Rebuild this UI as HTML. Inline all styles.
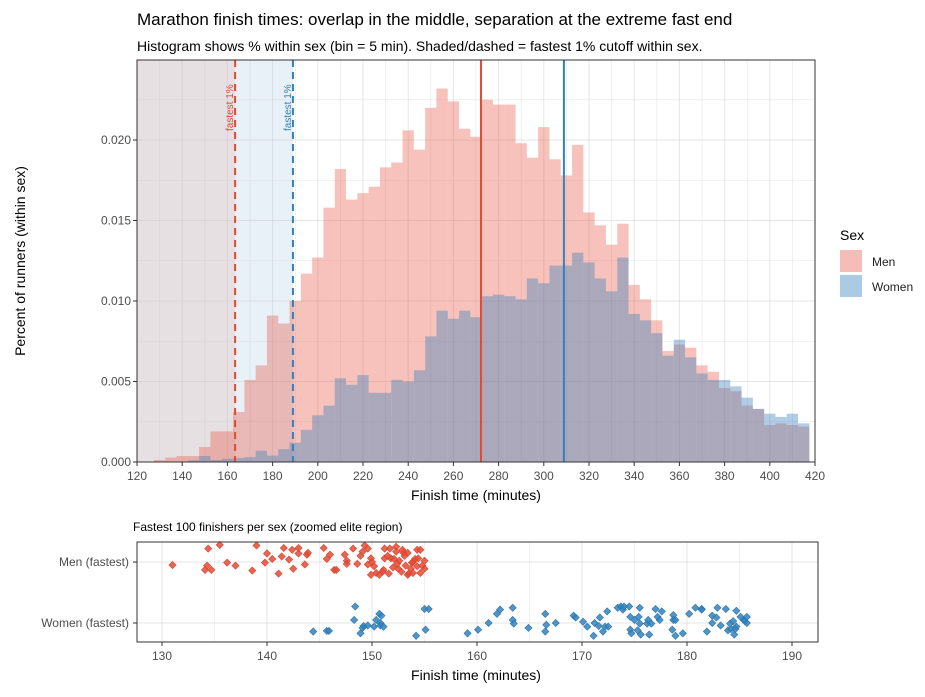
<!DOCTYPE html>
<html><head><meta charset="utf-8"><style>
body{margin:0;background:#fff;}
svg{display:block;font-family:"Liberation Sans",sans-serif;}
</style></head><body>
<svg id="c" width="925" height="697" viewBox="0 0 925 697">
<text x="137" y="25" font-size="17" fill="#000">Marathon finish times: overlap in the middle, separation at the extreme fast end</text>
<text x="137" y="51" font-size="14" fill="#000">Histogram shows % within sex (bin = 5 min). Shaded/dashed = fastest 1% cutoff within sex.</text>
<g id="topPanel"></g>
<g id="botPanel"></g>
<text x="476" y="500" font-size="14" text-anchor="middle">Finish time (minutes)</text>
<text x="0" y="0" font-size="14" text-anchor="middle" transform="translate(25,261) rotate(-90)">Percent of runners (within sex)</text>
<text x="840" y="240" font-size="14">Sex</text>
<rect x="840" y="250" width="22" height="22" fill="#F5BDB7"/>
<text x="872" y="266" font-size="12" fill="#222">Men</text>
<rect x="840" y="275" width="22" height="22" fill="#AACBE3"/>
<text x="872" y="291" font-size="12" fill="#222">Women</text>
<text x="133" y="531" font-size="12" fill="#000">Fastest 100 finishers per sex (zoomed elite region)</text>
<text x="476" y="680" font-size="14" text-anchor="middle">Finish time (minutes)</text>
</svg>
<script>
const binCenters=[130,135,140,145,150,155,160,165,170,175,180,185,190,195,200,205,210,215,220,225,230,235,240,245,250,255,260,265,270,275,280,285,290,295,300,305,310,315,320,325,330,335,340,345,350,355,360,365,370,375,380,385,390,395,400,405,410,415];
const menPct=[0.00012,0.00027,0.00037,0.00037,0.00093,0.0019,0.0019,0.0031,0.0051,0.0060,0.0091,0.0086,0.0100,0.0117,0.0127,0.0158,0.0182,0.0163,0.0167,0.0171,0.0183,0.0186,0.0206,0.0194,0.0220,0.0232,0.0224,0.0207,0.0202,0.0225,0.0222,0.0222,0.0198,0.0189,0.0208,0.0188,0.0178,0.0197,0.0155,0.0147,0.0135,0.0148,0.0110,0.0101,0.0088,0.0069,0.0073,0.0071,0.0060,0.0056,0.0046,0.0044,0.0035,0.0033,0.0023,0.0024,0.0023,0.0022];
const womenPct=[0,0,0,0.0001,0.00037,0.00012,0.0002,0.00025,0.0003,0.0007,0.0004,0.0008,0.0012,0.0020,0.0029,0.0035,0.0052,0.0048,0.0054,0.0043,0.0043,0.0051,0.0050,0.0057,0.0078,0.0094,0.0089,0.0094,0.0090,0.0103,0.0104,0.0103,0.0101,0.0114,0.0111,0.0122,0.0122,0.0130,0.0124,0.0114,0.0106,0.0127,0.0092,0.0088,0.0080,0.0066,0.0076,0.0065,0.0055,0.0051,0.0051,0.0047,0.0040,0.0033,0.0030,0.0028,0.0030,0.0024];
const binWidth=5;
const menCutoff=163.4, womenCutoff=189.0;
const menMedian=272.2, womenMedian=308.9;
const xTicks=[120,140,160,180,200,220,240,260,280,300,320,340,360,380,400,420];
const yTicks=[0,0.005,0.010,0.015,0.020];
const yTickLabels=["0.000","0.005","0.010","0.015","0.020"];
const menTimes=[131.0,134.4,135.5,134.1,134.3,134.7,136.2,137.0,138.6,139.0,140.0,139.8,140.5,141.1,141.4,141.6,142.1,142.4,142.5,143.0,143.0,143.6,143.8,143.9,145.4,145.7,146.0,146.4,146.6,147.4,147.6,147.6,148.2,148.6,148.9,149.1,149.3,149.6,149.6,149.9,149.9,150.2,150.4,150.7,151.1,151.2,151.2,151.6,151.7,151.8,152.1,152.3,152.3,152.5,152.6,152.9,153.0,153.2,153.4,153.4,153.7,153.8,153.9,154.1,154.3,154.4,154.6,154.6,154.8,155.0,155.0,152.0,152.4,152.8,153.5,153.9,154.3,153.1,151.5,151.0,150.0];
const menJitter=[-0.05,0.22,0.28,-0.13,-0.06,-0.13,-0.01,-0.06,-0.14,0.27,0.14,-0.01,0.05,-0.19,0.09,0.23,0.04,0.20,-0.11,0.23,0.14,-0.04,0.12,0.15,0.23,0.05,0.12,-0.13,-0.13,0.12,0.02,-0.03,0.22,-0.03,0.10,0.17,0.27,0.22,-0.04,0.06,-0.21,-0.07,-0.18,-0.21,-0.13,0.22,0.06,-0.19,0.22,0.06,0.05,0.25,0.17,-0.11,0.02,0.20,0.15,-0.06,0.15,-0.21,-0.11,-0.01,-0.18,0.05,0.20,0.06,0.20,-0.18,-0.06,0.02,-0.11,-0.09,-0.03,-0.16,-0.19,0.0,-0.07,0.10,0.10,-0.16,0.0];
const womenTimes=[144.4,145.7,145.9,148.3,148.4,148.9,149.1,149.2,149.6,150.2,150.4,150.7,150.9,150.8,150.8,151.1,154.2,155.0,155.4,155.1,159.1,160.1,161.1,161.9,162.2,163.4,163.4,163.5,164.9,166.5,166.6,166.5,167.5,169.2,169.4,170.1,170.5,171.1,171.2,171.6,171.7,172.0,172.2,172.4,172.5,173.4,173.7,173.9,174.0,174.5,174.6,174.6,174.7,175.0,175.4,175.5,175.3,175.5,175.6,176.2,176.3,176.4,176.6,177.0,177.2,177.4,177.6,178.7,178.7,178.6,178.9,178.9,179.6,180.2,180.8,181.4,181.4,181.9,182.4,182.4,182.8,182.9,183.2,183.7,183.9,184.1,184.2,184.4,184.5,184.7,184.7,184.6,185.1,185.4,185.7,185.7,185.5];
const womenJitter=[-0.14,-0.13,-0.13,0.05,0.27,-0.17,-0.08,-0.05,-0.04,-0.06,0.05,0.15,0.12,0.0,-0.04,-0.06,-0.21,0.23,0.23,-0.11,-0.17,-0.11,0.0,0.15,0.22,0.25,0.05,-0.01,-0.08,0.15,-0.03,-0.14,0.0,0.12,0.09,0.02,-0.06,-0.21,0.0,-0.05,0.09,-0.14,-0.06,0.19,-0.06,0.25,0.27,0.22,0.27,0.27,0.10,-0.11,-0.17,0.05,0.10,0.25,-0.12,-0.01,-0.19,-0.01,0.05,-0.19,-0.01,0.23,0.10,0.05,0.19,0.13,0.05,-0.11,0.05,-0.21,-0.17,0.15,0.25,0.23,0.22,-0.14,0.12,0.0,0.09,0.25,-0.04,0.23,-0.12,-0.01,-0.10,0.03,-0.19,-0.06,0.20,-0.10,0.10,0.05,0.10,0.0,0.03];
const botTicks=[130,140,150,160,170,180,190];
const categories=["Men (fastest)","Women (fastest)"];

const NS="http://www.w3.org/2000/svg";
function mk(parent,tag,attrs){const el=document.createElementNS(NS,tag);for(const k in attrs)el.setAttribute(k,attrs[k]);parent.appendChild(el);return el;}
const L=137,R=815,T=60,B=462;
const x=v=>L+(v-120)*(R-L)/300;
const y=v=>B-v*(B-T)/0.02497;
const topG=document.getElementById('topPanel');
let e;
e=mk(topG,'rect',{x:L,y:T,width:x(womenCutoff)-L,height:B-T,fill:'#E8F0F8'});


e=mk(topG,'rect',{x:L,y:T,width:x(menCutoff)-L,height:B-T,fill:'#E6E0E3'});


for(let v=120;v<=420;v+=10){e=mk(topG,'line',{x1:x(v),x2:x(v),y1:T,y2:B,stroke:'rgba(200,200,200,0.45)','stroke-width':v%20===0?1:0.6});

}
for(let k=0;k<=9;k++){const v=k*0.0025;e=mk(topG,'line',{x1:L,x2:R,y1:y(v),y2:y(v),stroke:'rgba(200,200,200,0.45)','stroke-width':k%2===0?1:0.6});

}
binCenters.forEach((c,i)=>{const v=menPct[i];if(v<=0)return;
 e=mk(topG,'rect',{x:x(c-binWidth/2),y:y(v),width:x(c+binWidth/2)-x(c-binWidth/2),height:B-y(v),fill:'rgba(232,80,60,0.35)'});
 
 });
binCenters.forEach((c,i)=>{const v=womenPct[i];if(v<=0)return;
 e=mk(topG,'rect',{x:x(c-binWidth/2),y:y(v),width:x(c+binWidth/2)-x(c-binWidth/2),height:B-y(v),fill:'rgba(60,130,190,0.4)'});
 
 });
e=mk(topG,'line',{x1:x(menCutoff),x2:x(menCutoff),y1:T,y2:B,stroke:'#E34A33','stroke-width':2,'stroke-dasharray':'7,5'});


e=mk(topG,'line',{x1:x(womenCutoff),x2:x(womenCutoff),y1:T,y2:B,stroke:'#3182BD','stroke-width':2,'stroke-dasharray':'7,5'});


e=mk(topG,'line',{x1:x(menMedian),x2:x(menMedian),y1:T,y2:B,stroke:'#E34A33','stroke-width':2});


e=mk(topG,'line',{x1:x(womenMedian),x2:x(womenMedian),y1:T,y2:B,stroke:'#3182BD','stroke-width':2});


e=mk(topG,'text',{transform:`translate(${x(menCutoff)-2},131) rotate(-90)`,'font-size':10,fill:'#E34A33'});e.textContent='fastest 1%';


e=mk(topG,'text',{transform:`translate(${x(womenCutoff)-2},131) rotate(-90)`,'font-size':10,fill:'#3182BD'});e.textContent='fastest 1%';


e=mk(topG,'rect',{x:L,y:T,width:R-L,height:B-T,fill:'none',stroke:'#333','stroke-width':1});


xTicks.forEach(v=>{mk(topG,'line',{x1:x(v),x2:x(v),y1:B,y2:B+4,stroke:'#333'});
 e=mk(topG,'text',{x:x(v),y:B+18,'font-size':12,fill:'#4d4d4d','text-anchor':'middle'});e.textContent=v;
 
 });
yTicks.forEach((v,i)=>{mk(topG,'line',{x1:L-4,x2:L,y1:y(v),y2:y(v),stroke:'#333'});
 e=mk(topG,'text',{x:L-6,y:y(v)+4,'font-size':12,fill:'#4d4d4d','text-anchor':'end'});e.textContent=yTickLabels[i];
 
 });

const botG=document.getElementById('botPanel');
const BL=137,BR=818,BT=542,BB=642;
const bx=v=>162+(v-130)*10.5;
const catY=[562,623];
const by=(ci,j)=>catY[ci]-j*61;
e=mk(botG,'rect',{x:BL,y:BT,width:BR-BL,height:BB-BT,fill:'#fff'});
for(let v=130;v<=190;v+=5){e=mk(botG,'line',{x1:bx(v),x2:bx(v),y1:BT,y2:BB,stroke:'rgba(200,200,200,0.45)','stroke-width':v%10===0?1:0.6});
 
 }
catY.forEach(cy=>{e=mk(botG,'line',{x1:BL,x2:BR,y1:cy,y2:cy,stroke:'rgba(200,200,200,0.45)'});
 
 });
function diamond(cx,cy,fill,stroke,name){
 e=mk(botG,'path',{d:`M${cx},${cy-3.6}L${cx+3.6},${cy}L${cx},${cy+3.6}L${cx-3.6},${cy}Z`,fill:fill,stroke:stroke,'stroke-width':0.6});
 
 }
menTimes.forEach((t,i)=>diamond(bx(t),by(0,menJitter[i]),'rgba(227,74,51,0.85)','#D94530','point-men'));
womenTimes.forEach((t,i)=>diamond(bx(t),by(1,womenJitter[i]),'rgba(49,130,189,0.85)','#2B74AA','point-women'));
e=mk(botG,'rect',{x:BL,y:BT,width:BR-BL,height:BB-BT,fill:'none',stroke:'#333'});


botTicks.forEach(v=>{mk(botG,'line',{x1:bx(v),x2:bx(v),y1:BB,y2:BB+4,stroke:'#333'});
 e=mk(botG,'text',{x:bx(v),y:BB+18,'font-size':12,fill:'#4d4d4d','text-anchor':'middle'});e.textContent=v;
 
 });
categories.forEach((c,i)=>{mk(botG,'line',{x1:BL-4,x2:BL,y1:catY[i],y2:catY[i],stroke:'#333'});
 e=mk(botG,'text',{x:BL-8,y:catY[i]+4,'font-size':12,fill:'#4d4d4d','text-anchor':'end'});e.textContent=c;
 
 });
</script>
</body></html>
